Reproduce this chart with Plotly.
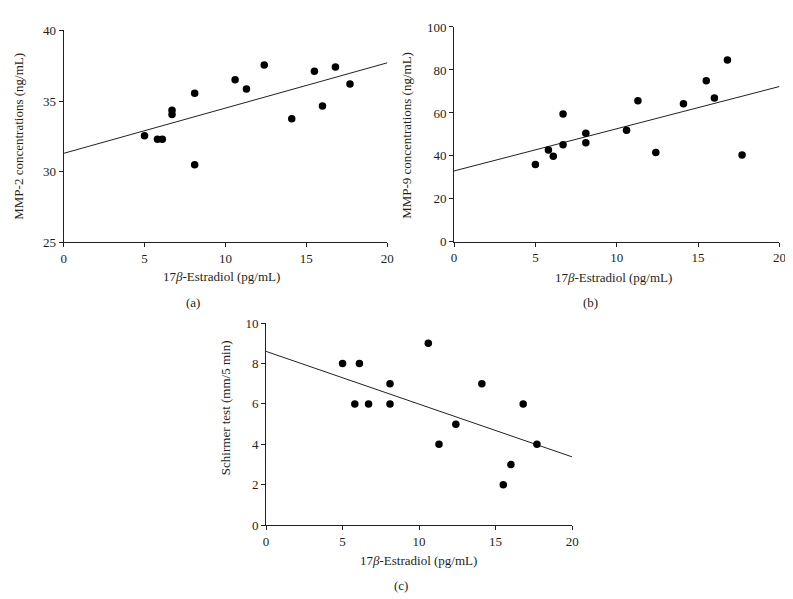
import plotly.graph_objects as go

W, H = 793, 599

# ---- data ----
estradiol_a = [5.0, 5.8, 6.1, 6.7, 6.7, 8.1, 8.1, 10.6, 11.3, 12.4, 14.1, 15.5, 16.0, 16.8, 17.7]
mmp2 = [32.55, 32.3, 32.3, 34.35, 34.05, 35.55, 30.5, 36.5, 35.85, 37.55, 33.75, 37.1, 34.65, 37.4, 36.2]

estradiol_b = [5.0, 5.8, 6.1, 6.7, 6.7, 8.1, 8.1, 10.6, 11.3, 12.4, 14.1, 15.5, 16.0, 16.8, 17.7]
mmp9 = [36.0, 42.8, 39.9, 45.2, 59.5, 50.5, 46.1, 52.0, 65.7, 41.6, 64.3, 75.0, 67.0, 84.6, 40.4]

estradiol_c = [5.0, 5.8, 6.1, 6.7, 8.1, 8.1, 10.6, 11.3, 12.4, 14.1, 15.5, 16.0, 16.8, 17.7]
schirmer = [8, 6, 8, 6, 7, 6, 9, 4, 5, 7, 2, 3, 6, 4]

fit_x = [0, 20]
fit_a = [31.3, 37.7]
fit_b = [33.0, 72.3]
fit_c = [8.6, 3.38]

x_ticks = [0, 5, 10, 15, 20]
ticks_a = [25, 30, 35, 40]
ticks_b = [0, 20, 40, 60, 80, 100]
ticks_c = [0, 2, 4, 6, 8, 10]

INK = "#231f20"
FONT = "Liberation Serif"


def px(x):
    return x / W


def py(y):
    return 1 - y / H


fig = go.Figure()

panels = [
    ("x", "y", estradiol_a, mmp2, fit_a),
    ("x2", "y2", estradiol_b, mmp9, fit_b),
    ("x3", "y3", estradiol_c, schirmer, fit_c),
]
for xa, ya, xs, ys, fy in panels:
    fig.add_trace(go.Scatter(x=fit_x, y=fy, mode="lines", xaxis=xa, yaxis=ya,
                             line=dict(color=INK, width=1), showlegend=False,
                             hoverinfo="skip"))
    fig.add_trace(go.Scatter(x=xs, y=ys, mode="markers", xaxis=xa, yaxis=ya,
                             marker=dict(color="black", size=7.5), showlegend=False))

axis_common = dict(showline=True, linecolor=INK, linewidth=1, ticks="outside",
                   ticklen=4, tickcolor=INK, tickwidth=1, showgrid=False,
                   zeroline=False, tickfont=dict(family=FONT, size=13, color=INK),
                   fixedrange=True)

fig.update_layout(
    width=W, height=H,
    margin=dict(l=0, r=0, t=0, b=0),
    paper_bgcolor="white", plot_bgcolor="white",
    xaxis=dict(domain=[px(53.3), px(381)], range=[0, 20], tickvals=x_ticks,
               anchor="y", **axis_common),
    yaxis=dict(domain=[py(233.3), py(15.7)], range=[25, 40], tickvals=ticks_a,
               anchor="x", **axis_common),
    xaxis2=dict(domain=[px(448.7), px(778.3)], range=[0, 20], tickvals=x_ticks,
                anchor="y2", **axis_common),
    yaxis2=dict(domain=[py(232.7), py(12.3)], range=[0, 100], tickvals=ticks_b,
                anchor="x2", **axis_common),
    xaxis3=dict(domain=[px(258.3), px(568.3)], range=[0, 20], tickvals=x_ticks,
                anchor="y3", **axis_common),
    yaxis3=dict(domain=[py(523.3), py(316)], range=[0, 10], tickvals=ticks_c,
                anchor="x3", **axis_common),
)

xtitle = "17<i>β</i>-Estradiol (pg/mL)"
texts = [
    (213, 268, xtitle, 0),
    (610, 269, xtitle, 0),
    (413, 560, xtitle, 0),
    (184, 295, "(a)", 0),
    (587, 295, "(b)", 0),
    (395, 585, "(c)", 0),
    (8, 124, "MMP-2 concentrations (ng/mL)", -90),
    (401, 123, "MMP-9 concentrations (ng/mL)", -90),
    (218, 403, "Schirmer test (mm/5 min)", -90),
]
for x, y, t, ang in texts:
    fig.add_annotation(x=px(x), y=py(y), xref="paper", yref="paper", text=t,
                       showarrow=False, textangle=ang, xanchor="center", yanchor="middle",
                       font=dict(family=FONT, size=13, color=INK))

fig.write_html("out.html")
